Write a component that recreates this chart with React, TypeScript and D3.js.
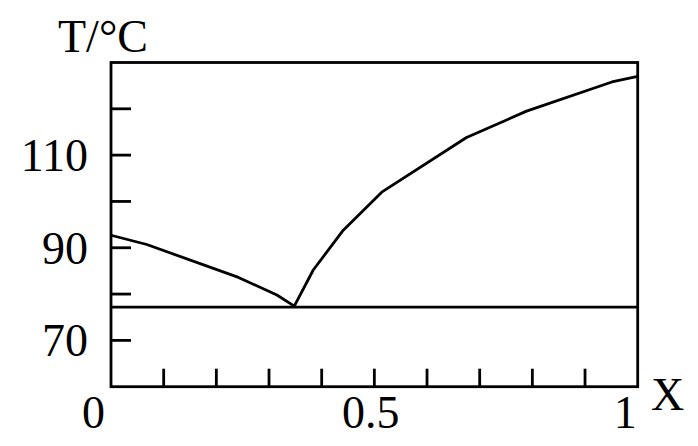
import React from "react";
import * as d3 from "d3";

// Liquidus curve of a binary system, T (°C) against mole fraction X
const liquidusX = [0, 0.068, 0.242, 0.315, 0.348, 0.384, 0.441, 0.514, 0.675, 0.789, 0.951, 1];
const liquidusT = [92.7, 90.7, 83.6, 79.8, 77.4, 85.2, 93.8, 102, 113.8, 119.5, 125.8, 127];
const eutecticT = 77.2;

const yTickValues = [70, 80, 90, 100, 110, 120];
const yTickLabels = [
  { value: 70, text: "70" },
  { value: 90, text: "90" },
  { value: 110, text: "110" },
];
const xTickValues = [0.1, 0.2, 0.3, 0.4, 0.5, 0.6, 0.7, 0.8, 0.9];
const xTickLabels = [
  { value: 0, text: "0", anchor: "end", dx: -6 },
  { value: 0.5, text: "0.5", anchor: "middle", dx: -3.5 },
  { value: 1, text: "1", anchor: "end", dx: -1 },
];

const W = 698;
const H = 446;
const left = 111;
const right = 637.7;
const top = 62.5;
const bottom = 386.7;

export default function App() {
  const x = d3.scaleLinear().domain([0, 1]).range([left, right]);
  const y = d3.scaleLinear().domain([60, 130]).range([bottom, top]);

  const pts: [number, number][] = liquidusX.map((v, i) => [v, liquidusT[i]]);
  const line = d3
    .line<[number, number]>()
    .x((d) => x(d[0]))
    .y((d) => y(d[1]));

  const font = "'Liberation Serif', 'Times New Roman', serif";
  const sw = 2.8;

  return (
    <svg
      width={W}
      height={H}
      viewBox={`0 0 ${W} ${H}`}
      style={{ position: "absolute", left: 0, top: 0, background: "#fff" }}
    >
      <rect x={0} y={0} width={W} height={H} fill="#fff" />
      {/* frame */}
      <rect
        x={left}
        y={top}
        width={right - left}
        height={bottom - top}
        fill="none"
        stroke="#000"
        strokeWidth={sw}
      />
      {/* y ticks, pointing inward */}
      {yTickValues.map((v) => (
        <line key={`yt${v}`} x1={left} x2={left + 20} y1={y(v)} y2={y(v)} stroke="#000" strokeWidth={sw} />
      ))}
      {/* x ticks, pointing inward */}
      {xTickValues.map((v) => (
        <line key={`xt${v}`} x1={x(v)} x2={x(v)} y1={bottom} y2={bottom - 18} stroke="#000" strokeWidth={sw} />
      ))}
      {/* eutectic line */}
      <line x1={x(0)} x2={x(1)} y1={y(eutecticT)} y2={y(eutecticT)} stroke="#000" strokeWidth={sw} />
      {/* liquidus */}
      <path d={line(pts) || ""} fill="none" stroke="#000" strokeWidth={sw} strokeLinejoin="round" />

      {yTickLabels.map((t) => (
        <text
          key={`yl${t.value}`}
          x={left - 23}
          y={y(t.value) + 16}
          textAnchor="end"
          fontFamily={font}
          fontSize={46}
          fill="#000"
        >
          {t.text}
        </text>
      ))}
      {xTickLabels.map((t) => (
        <text
          key={`xl${t.value}`}
          x={x(t.value) + t.dx}
          y={427.7}
          textAnchor={t.anchor as any}
          fontFamily={font}
          fontSize={46}
          fill="#000"
        >
          {t.text}
        </text>
      ))}
      <text x={58} y={51.7} fontFamily={font} fontSize={46} fill="#000">
        T/°C
      </text>
      <text x={651} y={410} fontFamily={font} fontSize={46} fill="#000">
        X
      </text>
    </svg>
  );
}
